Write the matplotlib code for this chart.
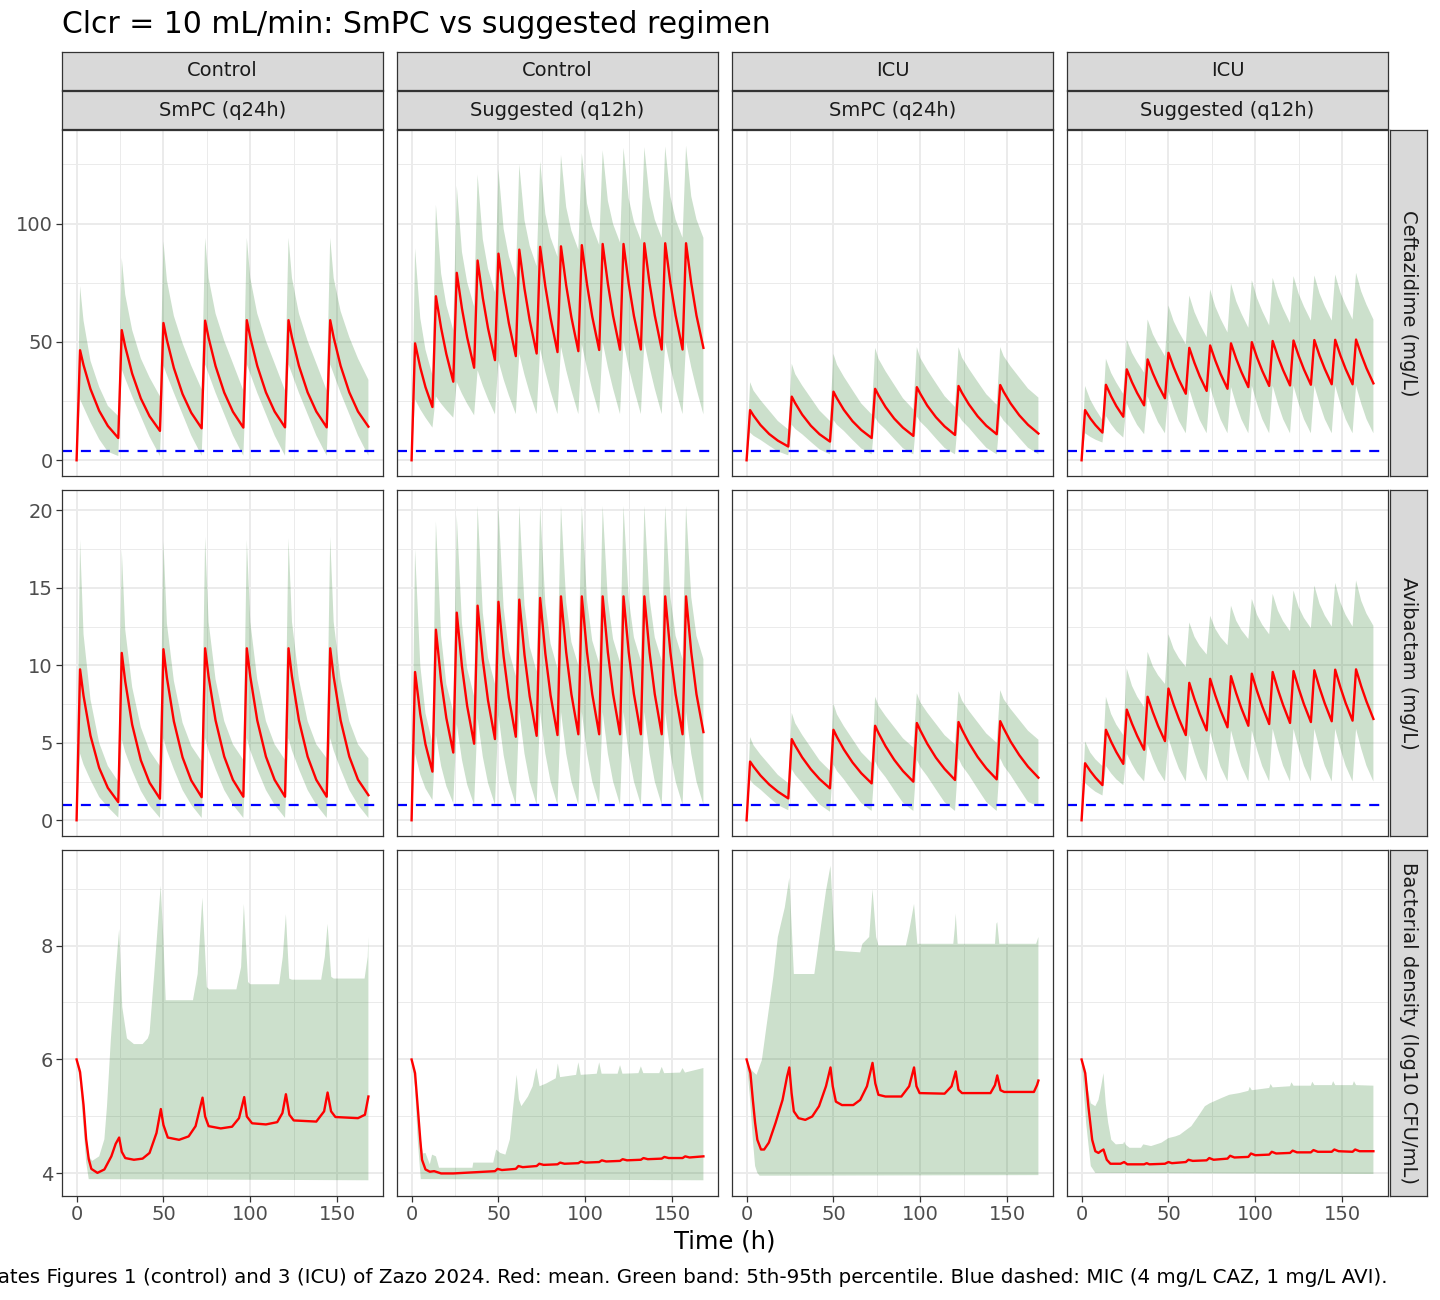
import numpy as np
import matplotlib
matplotlib.use("Agg")
import matplotlib.pyplot as plt

W, H = 1440, 1300

# ---- facet labels ----
col_region = ["Control", "Control", "ICU", "ICU"]
col_regimen = ["SmPC (q24h)", "Suggested (q12h)", "SmPC (q24h)", "Suggested (q12h)"]
row_labels = ["Ceftazidime (mg/L)", "Avibactam (mg/L)", "Bacterial density (log10 CFU/mL)"]
mic_values = [4, 1, None]

# ---- time grids (h) ----
t_q24 = [0, 2, 4, 8, 13, 18, 24, 26, 28, 32, 37, 42, 48, 50, 52, 56, 61, 66,
         72, 74, 76, 80, 85, 90, 96, 98, 100, 104, 109, 114, 120, 122, 124, 128, 133, 138,
         144, 146, 148, 152, 157, 162, 168]
t_q12 = [0, 2, 5, 8, 12, 14, 17, 20, 24, 26, 29, 32, 36, 38, 41, 44, 48, 50, 53, 56,
         60, 62, 65, 68, 72, 74, 77, 80, 84, 86, 89, 92, 96, 98, 101, 104, 108, 110, 113, 116,
         120, 122, 125, 128, 132, 134, 137, 140, 144, 146, 149, 152, 156, 158, 161, 164, 168]

# ---- Ceftazidime (mg/L) ----
caz_ctrl_smpc_mean = [0, 46.5, 40.2, 30.1, 20.9, 14.5, 9.4, 55, 48.0, 36.6, 26.1, 18.6,
                      12.4, 58, 50.8, 39.0, 28.0, 20.1, 13.5, 59, 51.7, 39.8, 28.6, 20.5,
                      13.8, 59.2, 51.9, 39.9, 28.7, 20.6, 13.9, 59.2, 51.9, 39.9, 28.7, 20.6,
                      13.9, 59.2, 51.9, 39.9, 28.7, 20.6, 14.2]
caz_ctrl_smpc_lo = [0, 25.7, 22.5, 16, 8.9, 3.6, 1.8, 38.4, 34.5, 27, 18.5, 10,
                    1.8, 40, 36, 28.5, 19.5, 10.5, 1.9, 40.5, 36.5, 28.5, 19.5, 10.5,
                    1.9, 40.5, 36.5, 28.5, 19.5, 10.5, 1.9, 40.5, 36.5, 28.5, 19.5, 10.5,
                    1.9, 40.5, 36.5, 28.5, 19.5, 10.5, 1.9]
caz_ctrl_smpc_hi = [0, 73.6, 59, 42, 31, 23, 18.7, 85.5, 70, 55, 43, 35,
                    27, 92.5, 76, 61, 49.5, 40, 30, 94, 77, 62, 50.5, 41,
                    29.5, 94, 77, 62, 50.5, 41, 29.5, 94, 77, 62, 50.5, 41,
                    29.5, 94, 77, 63, 52, 43, 34]

caz_ctrl_sugg_mean = [0, 49.4, 39.2, 30.9, 22.5, 69.3, 55.9, 44.9, 33.2, 79.2, 64.1, 51.9,
                      39.1, 84.4, 68.6, 55.8, 42.3, 87.3, 71.1, 57.9, 44, 89, 72.5, 59.1,
                      45.1, 90.2, 73.5, 60.1, 45.7, 90.4, 73.9, 60.4, 46.1, 90.9, 74.3, 60.7,
                      46.6, 91.4, 74.6, 61, 46.7, 91.4, 74.6, 61, 46.8, 91.7, 74.8, 61.2,
                      46.8, 91.7, 74.8, 61.2, 46.8, 91.7, 74.8, 61.2, 47.5]
caz_ctrl_sugg_lo = [0, 25.7, 21.5, 18, 13.8, 27, 23.9, 21.2, 18, 33, 28.1, 23.9,
                    19, 38, 31.5, 25.9, 19.4, 42, 34.1, 27.4, 19.5, 45, 36.1, 28.4,
                    19.5, 47, 37.4, 29.1, 19.5, 48, 38, 29.5, 19.5, 49, 38.7, 29.8,
                    19.5, 50, 39.3, 30.2, 19.5, 50, 39.3, 30.2, 19.5, 50, 39.3, 30.2,
                    19.5, 50, 39.3, 30.2, 19.5, 50, 39.3, 30.2, 19.4]
caz_ctrl_sugg_hi = [0, 89.5, 60.1, 46.7, 36, 108, 78.9, 65.6, 55, 116, 88, 75.2,
                    65, 120.7, 93.4, 80.9, 71, 123, 97.7, 86.2, 77, 125, 101.4, 90.6,
                    82, 126.3, 104.1, 94.1, 86, 129, 107, 97, 89, 129.8, 108.5, 98.8,
                    91, 131, 109.6, 99.8, 92, 132, 110.6, 100.8, 93, 132.3, 111.2, 101.7,
                    94, 132.6, 111.4, 101.7, 94, 132.9, 111.5, 101.8, 94]

caz_icu_smpc_mean = [0, 21.2, 18.85, 14.9, 11.1, 8.3, 5.8, 26.9, 24.1, 19.3, 14.6, 11.0,
                     7.9, 29, 26.2, 21.3, 16.5, 12.8, 9.4, 30.2, 27.4, 22.5, 17.6, 13.8,
                     10.3, 30.9, 28.1, 23.1, 18.2, 14.3, 10.7, 31.4, 28.5, 23.6, 18.6, 14.6,
                     11.0, 31.8, 28.9, 24.0, 19.0, 15.0, 11.3]
caz_icu_smpc_lo = [0, 11.7, 10.35, 8.6, 6.1, 3.7, 2.1, 15, 13.25, 11, 7.75, 4.6,
                   2.5, 17, 15, 12.4, 8.6, 5, 2.5, 18, 15.8, 13, 9, 5.1,
                   2.5, 18.5, 16.3, 13.4, 9.2, 5.2, 2.5, 19, 16.7, 13.7, 9.4, 5.3,
                   2.5, 19, 16.7, 13.7, 9.4, 5.3, 2.5]
caz_icu_smpc_hi = [0, 33, 29.4, 25.4, 21, 16.6, 13, 40.8, 36.4, 31.6, 26.3, 21,
                   16.6, 45, 40.4, 35.3, 29.6, 24, 19.4, 47.5, 42.8, 37.6, 31.9, 26.2,
                   21.5, 47.8, 43.2, 38.2, 32.6, 27.1, 22.5, 47.8, 43.4, 38.6, 33.2, 27.9,
                   23.5, 47.8, 44, 39.7, 35, 30.3, 26.5]

caz_icu_sugg_mean = [0, 21.2, 17.7, 14.85, 11.7, 31.9, 27.05, 22.9, 18.4, 38.4, 33, 28.4,
                     23.2, 42.6, 36.8, 31.8, 26.2, 45.4, 39.3, 34.05, 28.1, 47.5, 41.1, 35.5,
                     29.3, 48.5, 42.1, 36.5, 30.2, 49.4, 42.9, 37.3, 30.9, 49.9, 43.4, 37.8,
                     31.4, 50.4, 43.8, 38.1, 31.6, 50.6, 44.1, 38.4, 31.9, 50.8, 44.2, 38.6,
                     32.1, 50.9, 44.3, 38.6, 32.1, 51, 44.6, 38.9, 32.5]
caz_icu_sugg_lo = [0, 11.4, 9.9, 8.7, 7.5, 18.7, 15.2, 12.3, 9.6, 24, 19.1, 14.9,
                   11, 27, 21.1, 16.1, 11.4, 29, 22.3, 16.7, 11.4, 30, 22.9, 17,
                   11.4, 31, 23.6, 17.3, 11.4, 31, 23.6, 17.3, 11.4, 31.5, 23.9, 17.4,
                   11.4, 31.5, 23.9, 17.4, 11.4, 31.5, 23.9, 17.4, 11.4, 31.5, 23.9, 17.4,
                   11.4, 31.5, 23.9, 17.4, 11.4, 31.5, 23.9, 17.4, 11.4]
caz_icu_sugg_hi = [0, 31.4, 25.6, 21.6, 17, 42.9, 36.9, 32.8, 28, 51, 45.4, 41.5,
                   37, 59.5, 53.3, 49, 44, 65.4, 58.8, 54.2, 49, 69.6, 62.6, 57.6,
                   52, 72.2, 64.9, 59.8, 54, 74.7, 67.2, 62, 56, 76.1, 68.5, 63.1,
                   57, 77.1, 69.5, 64.1, 58, 77.8, 70.3, 65, 59, 78.1, 70.5, 65.1,
                   59, 78.5, 70.9, 65.6, 59.5, 79.2, 71.3, 65.8, 59.5]

# ---- Avibactam (mg/L) ----
avi_ctrl_smpc_mean = [0, 9.74, 8.03, 5.46, 3.38, 2.09, 1.17, 10.8, 8.96, 6.17, 3.87, 2.43,
                      1.39, 11.04, 9.2, 6.39, 4.06, 2.57, 1.49, 11.1, 9.27, 6.45, 4.11, 2.61,
                      1.52, 11.1, 9.27, 6.45, 4.11, 2.61, 1.52, 11.1, 9.27, 6.45, 4.11, 2.61,
                      1.52, 11.1, 9.27, 6.45, 4.11, 2.62, 1.62]
avi_ctrl_smpc_lo = [0, 4.3, 3.6, 2.6, 1.5, 0.85, 0.17, 5.2, 4.4, 3.2, 1.9, 0.95,
                    0.15, 5.3, 4.5, 3.3, 1.95, 1.0, 0.15, 5.3, 4.5, 3.3, 1.95, 1.0,
                    0.15, 5.3, 4.5, 3.3, 1.95, 1.0, 0.15, 5.3, 4.5, 3.3, 1.95, 1.0,
                    0.15, 5.3, 4.5, 3.3, 1.95, 1.0, 0.15]
avi_ctrl_smpc_hi = [0, 18.1, 12, 7.8, 5, 3.5, 2.5, 17.5, 12.3, 8.6, 6.0, 4.5,
                    3.5, 18, 12.7, 9, 6.3, 4.8, 3.8, 18.3, 12.8, 9.1, 6.4, 4.9,
                    3.9, 18.1, 12.8, 9.1, 6.4, 4.9, 3.9, 18.2, 12.8, 9.1, 6.4, 4.9,
                    4.0, 18.3, 12.8, 9.1, 6.4, 4.9, 4.0]

avi_ctrl_sugg_mean = [0, 9.57, 6.85, 4.9, 3.14, 12.3, 9.0, 6.6, 4.37, 13.4, 9.93, 7.37,
                      4.94, 13.85, 10.35, 7.73, 5.24, 14.1, 10.56, 7.92, 5.39, 14.24, 10.68, 8.0,
                      5.45, 14.35, 10.76, 8.07, 5.5, 14.45, 10.84, 8.14, 5.55, 14.45, 10.84, 8.14,
                      5.55, 14.45, 10.84, 8.14, 5.55, 14.45, 10.84, 8.14, 5.55, 14.45, 10.84, 8.14,
                      5.55, 14.45, 10.84, 8.14, 5.55, 14.45, 10.84, 8.14, 5.69]
avi_ctrl_sugg_lo = [0, 4.3, 2.95, 2.05, 1.3, 5.5, 3.5, 2.2, 1.1, 6.2, 3.9, 2.3,
                    1.0, 6.6, 4.1, 2.4, 1.0, 6.8, 4.2, 2.45, 1.0, 7, 4.3, 2.5,
                    1.0, 7, 4.3, 2.5, 1.0, 7, 4.3, 2.5, 1.0, 7, 4.3, 2.5,
                    1.0, 7, 4.3, 2.5, 1.0, 7, 4.3, 2.5, 1.0, 7, 4.3, 2.5,
                    1.0, 7, 4.3, 2.5, 1.0, 7, 4.3, 2.5, 1.0]
avi_ctrl_sugg_hi = [0, 17.5, 10, 6.9, 5, 19.3, 11.9, 8.8, 7, 19.7, 12.7, 9.8,
                    8, 20.3, 13.4, 10.5, 8.8, 20.3, 13.7, 10.95, 9.3, 20.3, 13.9, 11.2,
                    9.6, 20.3, 14, 11.4, 9.8, 20.3, 14.1, 11.5, 10, 20.3, 14.2, 11.6,
                    10.1, 20.3, 14.2, 11.7, 10.2, 20.3, 14.3, 11.8, 10.3, 20.3, 14.3, 11.8,
                    10.3, 20.3, 14.4, 11.9, 10.4, 20.3, 14.4, 11.9, 10.4]

avi_icu_smpc_mean = [0, 3.79, 3.46, 2.89, 2.31, 1.85, 1.41, 5.24, 4.81, 4.06, 3.29, 2.66,
                     2.06, 5.84, 5.38, 4.57, 3.73, 3.04, 2.38, 6.1, 5.62, 4.78, 3.9, 3.18,
                     2.49, 6.28, 5.8, 4.94, 4.04, 3.31, 2.6, 6.34, 5.85, 4.99, 4.09, 3.35,
                     2.64, 6.4, 5.93, 5.08, 4.2, 3.46, 2.75]
avi_icu_smpc_lo = [0, 2.6, 2.33, 1.98, 1.47, 0.98, 0.65, 3.3, 2.92, 2.42, 1.71, 1.02,
                   0.55, 3.6, 3.18, 2.64, 1.86, 1.11, 0.6, 3.8, 3.35, 2.78, 1.94, 1.14,
                   0.6, 3.9, 3.44, 2.84, 1.99, 1.16, 0.6, 4.0, 3.52, 2.91, 2.03, 1.18,
                   0.6, 4.0, 3.52, 2.91, 2.03, 1.18, 0.9]
avi_icu_smpc_hi = [0, 5.37, 4.84, 4.24, 3.59, 2.93, 2.4, 6.93, 6.26, 5.51, 4.69, 3.87,
                   3.2, 7.53, 6.84, 6.07, 5.23, 4.39, 3.7, 7.97, 7.38, 6.73, 6.01, 5.29,
                   4.7, 8.2, 7.61, 6.95, 6.22, 5.49, 4.9, 8.33, 7.73, 7.06, 6.33, 5.6,
                   5.0, 8.4, 7.82, 7.18, 6.48, 5.78, 5.2]

avi_icu_sugg_mean = [0, 3.68, 3.18, 2.75, 2.27, 5.84, 5.07, 4.4, 3.64, 7.14, 6.24, 5.45,
                     4.55, 7.97, 6.98, 6.1, 5.11, 8.5, 7.46, 6.55, 5.5, 8.87, 7.81, 6.87,
                     5.8, 9.13, 8.05, 7.09, 6.0, 9.3, 8.2, 7.23, 6.1, 9.46, 8.34, 7.35,
                     6.21, 9.57, 8.44, 7.44, 6.28, 9.63, 8.5, 7.49, 6.34, 9.68, 8.54, 7.54,
                     6.39, 9.72, 8.58, 7.57, 6.43, 9.74, 8.64, 7.67, 6.54]
avi_icu_sugg_lo = [0, 2.4, 2.1, 1.84, 1.6, 3.5, 3.03, 2.64, 2.27, 4.3, 3.62, 3.04,
                   2.5, 4.9, 3.99, 3.22, 2.5, 5.3, 4.24, 3.34, 2.5, 5.5, 4.36, 3.4,
                   2.5, 5.7, 4.48, 3.46, 2.5, 5.8, 4.55, 3.49, 2.5, 5.8, 4.55, 3.49,
                   2.5, 5.9, 4.61, 3.52, 2.5, 5.9, 4.61, 3.52, 2.5, 5.9, 4.61, 3.52,
                   2.5, 5.9, 4.61, 3.52, 2.5, 5.9, 4.61, 3.52, 2.5]
avi_icu_sugg_hi = [0, 5.09, 4.37, 3.93, 3.5, 7.97, 6.86, 6.17, 5.5, 9.8, 8.68, 7.98,
                   7.3, 10.87, 9.94, 9.36, 8.8, 12.01, 11.06, 10.47, 9.9, 12.77, 11.84, 11.26,
                   10.7, 13.2, 12.35, 11.81, 11.3, 13.85, 12.88, 12.28, 11.7, 14.29, 13.26, 12.62,
                   12.0, 14.61, 13.53, 12.85, 12.2, 14.83, 13.74, 13.06, 12.4, 15.15, 13.96, 13.22,
                   12.5, 15.32, 14.05, 13.26, 12.5, 15.48, 14.16, 13.34, 12.55]

# ---- Bacterial density (log10 CFU/mL) ----
bac_ctrl_smpc_t = [0, 2, 4, 5.5, 7, 8.5, 12, 16, 20, 22.5, 24.5, 26, 28, 33, 38, 42, 46, 48.5, 50, 52.5,
                   59, 64.5, 68.5, 72.5, 74, 76, 83, 89.5, 93.5, 96.5, 98, 101, 109, 115.5, 118.5,
                   120.5, 122.5, 125, 138, 142.5, 144.5, 146.5, 149, 162, 166, 168]
bac_ctrl_smpc_mean = [6.0, 5.78, 5.2, 4.6, 4.25, 4.08, 4.01, 4.07, 4.3, 4.52, 4.63, 4.38, 4.27, 4.24,
                      4.26, 4.36, 4.71, 5.13, 4.85, 4.63, 4.59, 4.65, 4.83, 5.33, 5.0, 4.83, 4.79,
                      4.82, 4.97, 5.34, 5.0, 4.88, 4.86, 4.9, 5.06, 5.39, 5.03, 4.93, 4.91, 5.09,
                      5.42, 5.09, 4.99, 4.97, 5.03, 5.35]
bac_ctrl_smpc_hi_t = [0, 2, 4, 5.5, 7, 9, 13, 16, 17.5, 19.7, 22.4, 24.5, 26.3, 29, 33, 38, 41, 42,
                      44.7, 46.8, 48.4, 50, 51.3, 67, 69.7, 72.4, 75, 76.3, 92, 94.7, 96.3, 98.7,
                      100, 116.6, 118.7, 120.5, 122.4, 124, 140.8, 142.9, 144.5, 146.6, 148,
                      165.8, 167.6, 168]
bac_ctrl_smpc_hi = [6.0, 5.85, 5.3, 4.7, 4.3, 4.22, 4.3, 4.6, 5.18, 6.34, 7.5, 8.29, 6.92, 6.37,
                    6.27, 6.27, 6.37, 6.46, 7.5, 8.38, 9.05, 8.09, 7.04, 7.04, 7.5, 8.84, 7.27,
                    7.23, 7.23, 7.62, 8.73, 7.36, 7.32, 7.32, 7.8, 8.55, 7.42, 7.4, 7.4, 7.8,
                    8.38, 7.45, 7.42, 7.42, 7.8, 8.15]
bac_ctrl_smpc_lo_t = [0, 2, 4, 5.5, 7, 168]
bac_ctrl_smpc_lo = [6.0, 5.6, 4.8, 4.2, 3.9, 3.88]

bac_ctrl_sugg_t = [0, 2, 3.5, 5, 6, 8, 10.5, 13, 17, 24, 36, 48, 49.5, 52, 60, 61.5, 64, 72, 73.5, 76,
                   84, 85.5, 88, 96, 97.5, 100, 108, 109.5, 112, 120, 121.5, 124, 132, 133.5, 136,
                   144, 145.5, 148, 156, 157.5, 160, 168]
bac_ctrl_sugg_mean = [6.0, 5.76, 5.18, 4.59, 4.24, 4.07, 4.03, 4.04, 4.0, 4.0, 4.02, 4.04, 4.08,
                      4.06, 4.08, 4.13, 4.11, 4.13, 4.17, 4.15, 4.16, 4.19, 4.17, 4.18, 4.21, 4.19,
                      4.2, 4.23, 4.21, 4.22, 4.25, 4.23, 4.24, 4.27, 4.25, 4.26, 4.29, 4.27, 4.27,
                      4.3, 4.28, 4.3]
bac_ctrl_sugg_hi_t = [0, 2, 3.5, 5, 6.5, 8, 10.5, 11.8, 14, 15.8, 35, 35.5, 47, 48.7, 51, 54, 56.6,
                      58.7, 60.5, 61.8, 63.2, 67, 69.7, 71.8, 73.7, 77.6, 83, 84.2, 85.5, 94.7, 96,
                      97.4, 106.6, 108, 109.4, 118.6, 120, 121.4, 130.6, 132, 133.4, 142.6, 144,
                      145.4, 154.6, 156, 157.4, 168]
bac_ctrl_sugg_hi = [6.0, 5.8, 5.25, 4.65, 4.35, 4.36, 4.16, 4.33, 4.3, 4.1, 4.1, 4.19, 4.19, 4.42,
                    4.36, 4.33, 4.6, 5.23, 5.73, 5.3, 5.18, 5.35, 5.53, 5.85, 5.53, 5.58, 5.67,
                    5.93, 5.69, 5.73, 5.95, 5.73, 5.75, 5.95, 5.75, 5.75, 5.9, 5.75, 5.76, 5.88,
                    5.76, 5.76, 5.87, 5.76, 5.77, 5.85, 5.77, 5.85]
bac_ctrl_sugg_lo_t = [0, 2, 3.5, 5.3, 168]
bac_ctrl_sugg_lo = [6.0, 5.5, 4.6, 3.9, 3.88]

bac_icu_smpc_t = [0, 2.2, 3.6, 4.9, 6.2, 8.3, 10.1, 12.8, 16.7, 20.7, 23.3, 24.6, 25.9, 27.2, 29.9,
                  33.8, 37.8, 41.7, 45.7, 48.3, 49.6, 51.4, 54.9, 61.4, 65.4, 69.3, 72.5, 74.1, 75.9,
                  79.9, 89.1, 93.6, 96.4, 97.8, 99.6, 114, 118, 120.4, 122, 124, 140.4, 143, 144.3,
                  146.2, 148.3, 165.4, 167.2, 168]
bac_icu_smpc_mean = [6.0, 5.76, 5.29, 4.89, 4.59, 4.42, 4.42, 4.54, 4.89, 5.29, 5.7, 5.86, 5.41,
                     5.09, 4.97, 4.94, 5.0, 5.18, 5.53, 5.86, 5.53, 5.26, 5.2, 5.2, 5.29, 5.53, 5.94,
                     5.58, 5.38, 5.35, 5.35, 5.53, 5.86, 5.53, 5.41, 5.4, 5.53, 5.79, 5.47, 5.41,
                     5.41, 5.55, 5.72, 5.46, 5.43, 5.43, 5.55, 5.63]
bac_icu_smpc_hi_t = [0, 2, 3.6, 5.7, 8.8, 11.4, 15.4, 18, 22, 24.6, 25.9, 27.2, 39, 40.4, 43, 45.7,
                     48.3, 49.6, 51, 65.4, 66.7, 70.6, 72.5, 74.6, 75.9, 91.7, 93.6, 96.4, 98.3, 119,
                     119.9, 120.4, 121.5, 143, 143.8, 144.3, 145.5, 166.7, 168]
bac_icu_smpc_hi = [6.0, 5.85, 5.79, 5.73, 5.99, 6.57, 7.45, 8.15, 8.67, 9.19, 8.38, 7.5, 7.5, 7.8,
                   8.38, 8.96, 9.4, 8.67, 7.91, 7.88, 8.03, 8.15, 8.99, 8.15, 8.0, 8.0, 8.26, 8.73,
                   8.03, 8.03, 8.32, 8.56, 8.03, 8.03, 8.38, 8.41, 8.03, 8.03, 8.15]
bac_icu_smpc_lo_t = [0, 2, 3.6, 4.9, 6.2, 7.5, 168]
bac_icu_smpc_lo = [6.0, 5.3, 4.59, 4.13, 4.01, 3.96, 3.97]

bac_icu_sugg_t = [0, 2.1, 3.9, 6.1, 7.9, 9.7, 11, 12.6, 14.5, 16.6, 22.4, 24.5, 26.3, 36, 37.5, 39,
                  48, 50, 52, 60, 61.5, 64, 72, 73.5, 76, 84, 85.5, 88, 96, 97.5, 100, 108, 109.5,
                  112, 120, 121.5, 124, 132, 133.5, 136, 144, 145.5, 148, 156, 157.5, 160, 168]
bac_icu_sugg_mean = [6.0, 5.76, 5.18, 4.59, 4.39, 4.36, 4.39, 4.42, 4.24, 4.17, 4.17, 4.2, 4.16,
                     4.16, 4.18, 4.16, 4.17, 4.2, 4.18, 4.2, 4.24, 4.22, 4.23, 4.27, 4.24, 4.26,
                     4.31, 4.28, 4.29, 4.35, 4.32, 4.33, 4.38, 4.35, 4.36, 4.4, 4.37, 4.37, 4.41,
                     4.38, 4.38, 4.42, 4.39, 4.38, 4.42, 4.39, 4.39]
bac_icu_sugg_hi_t = [0, 2, 3.5, 5.3, 7.9, 9.7, 11.3, 12.6, 13.9, 15.3, 17.1, 19.7, 24, 24.5, 25.5,
                     27.6, 34.2, 35.5, 40, 46, 50, 54, 56.6, 59.2, 63.2, 67.1, 71, 73.7, 80.3, 85,
                     90.8, 96, 96.8, 98, 108, 108.8, 110, 120, 120.8, 122, 132, 132.8, 134, 144,
                     144.8, 146, 156, 156.8, 158, 168]
bac_icu_sugg_hi = [6.0, 5.85, 5.5, 5.23, 5.18, 5.29, 5.53, 5.76, 5.23, 4.89, 4.59, 4.51, 4.52,
                   4.56, 4.5, 4.45, 4.45, 4.51, 4.48, 4.54, 4.62, 4.65, 4.68, 4.74, 4.83, 5.0,
                   5.18, 5.23, 5.32, 5.38, 5.41, 5.45, 5.52, 5.46, 5.5, 5.57, 5.51, 5.53, 5.6,
                   5.54, 5.54, 5.61, 5.55, 5.55, 5.62, 5.55, 5.55, 5.62, 5.55, 5.54]
bac_icu_sugg_lo_t = [0, 2.6, 5.3, 7.9, 168]
bac_icu_sugg_lo = [6.0, 4.89, 4.13, 4.01, 3.99]

# (t_mean, mean, t_lo, lo, t_hi, hi) for each row / column
panels = [
    [(t_q24, caz_ctrl_smpc_mean, t_q24, caz_ctrl_smpc_lo, t_q24, caz_ctrl_smpc_hi),
     (t_q12, caz_ctrl_sugg_mean, t_q12, caz_ctrl_sugg_lo, t_q12, caz_ctrl_sugg_hi),
     (t_q24, caz_icu_smpc_mean, t_q24, caz_icu_smpc_lo, t_q24, caz_icu_smpc_hi),
     (t_q12, caz_icu_sugg_mean, t_q12, caz_icu_sugg_lo, t_q12, caz_icu_sugg_hi)],
    [(t_q24, avi_ctrl_smpc_mean, t_q24, avi_ctrl_smpc_lo, t_q24, avi_ctrl_smpc_hi),
     (t_q12, avi_ctrl_sugg_mean, t_q12, avi_ctrl_sugg_lo, t_q12, avi_ctrl_sugg_hi),
     (t_q24, avi_icu_smpc_mean, t_q24, avi_icu_smpc_lo, t_q24, avi_icu_smpc_hi),
     (t_q12, avi_icu_sugg_mean, t_q12, avi_icu_sugg_lo, t_q12, avi_icu_sugg_hi)],
    [(bac_ctrl_smpc_t, bac_ctrl_smpc_mean, bac_ctrl_smpc_lo_t, bac_ctrl_smpc_lo, bac_ctrl_smpc_hi_t, bac_ctrl_smpc_hi),
     (bac_ctrl_sugg_t, bac_ctrl_sugg_mean, bac_ctrl_sugg_lo_t, bac_ctrl_sugg_lo, bac_ctrl_sugg_hi_t, bac_ctrl_sugg_hi),
     (bac_icu_smpc_t, bac_icu_smpc_mean, bac_icu_smpc_lo_t, bac_icu_smpc_lo, bac_icu_smpc_hi_t, bac_icu_smpc_hi),
     (bac_icu_sugg_t, bac_icu_sugg_mean, bac_icu_sugg_lo_t, bac_icu_sugg_lo, bac_icu_sugg_hi_t, bac_icu_sugg_hi)],
]

y_major = [[0, 50, 100], [0, 5, 10, 15, 20], [4, 6, 8]]
y_minor = [[25, 75, 125], [2.5, 7.5, 12.5, 17.5], [5, 7, 9]]

plt.rcParams['font.family'] = ['DejaVu Sans']

fig = plt.figure(figsize=(W / 100, H / 100), dpi=100)
fig.patch.set_facecolor('white')


def px_rect(left, top, width, height):
    return [left / W, 1 - (top + height) / H, width / W, height / H]


def strip_box(rect):
    sax = fig.add_axes(rect)
    sax.set_facecolor('#D9D9D9')
    sax.set_xticks([])
    sax.set_yticks([])
    for s in sax.spines.values():
        s.set_color(border)
        s.set_linewidth(0.9)
    return sax


col_left = [62, 397, 732, 1067]
row_top = [130, 490, 850]
pw, ph = 321, 346
border = '#333333'
fs_small = 14

for r in range(3):
    first = None
    for c in range(4):
        ax = fig.add_axes(px_rect(col_left[c], row_top[r], pw, ph), sharey=first)
        if first is None:
            first = ax
        tm, m, tl, lo, th, hi = panels[r][c]
        xs = np.concatenate([th, tl[::-1]])
        ys = np.concatenate([hi, lo[::-1]])
        ax.fill(xs, ys, color='darkgreen', alpha=0.2, lw=0)
        ax.plot(tm, m, color='red', lw=1.7, solid_joinstyle='round')
        if mic_values[r] is not None:
            ax.axhline(mic_values[r], color='blue', lw=1.6, ls=(0, (4.5, 4)))
        ax.margins(x=0.05, y=0.05)
        ax.set_xticks([0, 50, 100, 150])
        ax.set_xticks([25, 75, 125], minor=True)
        ax.set_yticks(y_major[r])
        ax.set_yticks(y_minor[r], minor=True)
        ax.grid(which='major', color='#EBEBEB', lw=1.4)
        ax.grid(which='minor', color='#EBEBEB', lw=0.7)
        ax.set_axisbelow(True)
        ax.tick_params(which='major', length=4, width=0.9, color=border,
                       labelcolor='#4D4D4D', labelsize=fs_small, pad=2.5)
        ax.tick_params(which='minor', length=0)
        ax.tick_params(axis='x', labelbottom=(r == 2), bottom=(r == 2))
        ax.tick_params(axis='y', labelleft=(c == 0), left=(c == 0))
        for s in ax.spines.values():
            s.set_color(border)
            s.set_linewidth(0.9)

    # row strip on the right
    sax = strip_box(px_rect(1390, row_top[r], 37, ph))
    sax.text(0.5, 0.5, row_labels[r], rotation=-90, ha='center', va='center',
             fontsize=fs_small, color='#1A1A1A', transform=sax.transAxes)

# column strips (two layers)
for c in range(4):
    for top, label in [(52, col_region[c]), (91, col_regimen[c])]:
        sax = strip_box(px_rect(col_left[c], top, pw, 38))
        sax.text(0.5, 0.5, label, ha='center', va='center', fontsize=fs_small,
                 color='#1A1A1A', transform=sax.transAxes)

fig.text(62 / W, 1 - 33 / H, "Clcr = 10 mL/min: SmPC vs suggested regimen",
         ha='left', va='baseline', fontsize=21.5, color='black')
fig.text(725 / W, 1 - 1242 / H, "Time (h)", ha='center', va='center', fontsize=17.5, color='black')
fig.text(1388 / W, 1 - 1283 / H,
         "Replicates Figures 1 (control) and 3 (ICU) of Zazo 2024. Red: mean. Green band: "
         "5th-95th percentile. Blue dashed: MIC (4 mg/L CAZ, 1 mg/L AVI).",
         ha='right', va='baseline', fontsize=14.3, color='black')

fig.savefig('out.png', dpi=100, facecolor='white')
